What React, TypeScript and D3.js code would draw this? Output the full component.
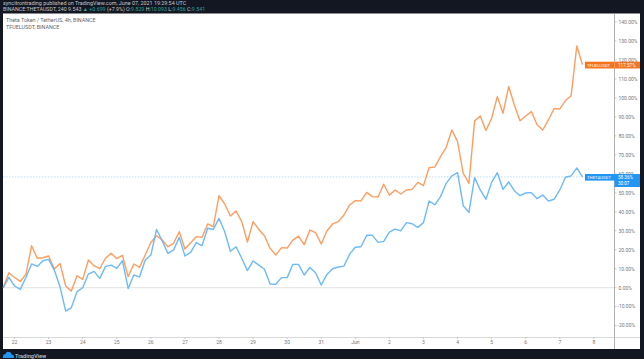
import React from "react";
import * as d3 from "d3";

const W = 644, H = 359;
const thetaValues = [0,5.4,0.9,-0.9,5.4,12.5,11.2,14.2,14.9,9.3,0.5,-12.3,-10.5,-2.1,0,7.2,8.6,4.9,11.1,11.9,10.2,14.2,-0.4,6.7,5.6,14.6,17.2,30.7,24.6,18.1,19.9,26.5,16.7,18.6,23.7,22.1,31.3,30.7,36.5,29.5,19.2,21.6,15.5,9.0,14.1,11.9,9.7,1.9,1.8,5.3,5.3,12.3,12.3,6.7,10.7,7.9,1.4,7.0,10.0,10.9,11.4,17.7,21.3,21.6,27.6,27.6,23.9,24.4,29.3,30.9,29.9,34.3,33.7,31.8,34.3,45.7,43.7,48.0,55.0,58.9,60.6,43.2,39.7,58.0,51.5,46.6,55.5,60.6,51.8,55.7,51.1,48.5,49.9,50.1,46.9,48.8,45.7,46.6,51.5,58.2,58.9,63.1,58.36];
const tfuelValues = [0,7.9,5.4,3.3,7.0,22.1,15.5,15.8,16.7,9.8,12.8,0.9,-1.8,6.3,4.4,14.6,11.6,10.0,15.5,18.1,15.3,17.0,5.8,12.5,10.7,17.2,23.8,27.4,25.1,21.6,23.4,29.5,20.4,23.7,26.9,26.5,33.6,32.2,48.5,44.1,37.8,40.4,34.8,24.1,34.8,30.7,27.4,20.7,17.2,21.1,20.9,25.1,27.2,22.7,30.4,29.0,23.0,29.9,33.6,34.8,38.3,43.6,45.9,45.7,50.2,48.0,47.8,54.5,48.7,51.5,49.4,51.5,51.8,55.5,53.8,63.3,63.6,69.1,74.0,83.1,77.0,60.3,55.0,87.9,90.5,82.8,89.3,100.7,91.9,106.0,96.3,88.0,90.5,92.8,85.9,83.1,88.4,94.4,94.2,98.6,101.2,127.4,117.57];
const yTicks = [-20,-10,0,10,20,30,40,50,60,70,80,90,100,110,120,130,140];
const dayLabels = ["22","23","24","25","26","27","28","29","30","31","Jun","2","3","4","5","6","7","8"];
const BARS_PER_DAY = 6;
const FIRST_DAY_INDEX = 2;

const ORANGE = "#ff8c42", BLUE = "#5cb2f7";
const FONT = "Roboto, 'Liberation Sans', sans-serif";

export default function App() {
  const x = d3.scaleLinear().domain([0, 102]).range([3.2, 582.5]);
  const y = d3.scaleLinear().domain([0, 130]).range([287.7, 41]);
  const line = d3.line<number>().x((_, i) => x(i)).y(d => y(d));
  const lastT = thetaValues[thetaValues.length - 1];
  const lastF = tfuelValues[tfuelValues.length - 1];
  const px = 3, pr = 640, pt = 13.5, pb = 349, ax = 614.5, bottom = 337.5;
  return (
    <svg width={W} height={H} style={{ position: "fixed", left: 0, top: 0, background: "#131722" }} fontFamily={FONT}>
      <rect x={px} y={pt} width={pr - px} height={pb - pt} fill="#fff" />
      <text x={3} y={4.5} fontSize={5.4} fill="#c3c6ce">syncitrontrading published on TradingView.com, June 07, 2021 19:29:54 UTC</text>
      <text x={3} y={11} fontSize={5.3} fill="#c3c6ce">
        BINANCE:THETAUSDT, 240 9.543 <tspan fill="#26a69a">▲ +0.699 </tspan>(+7.9%) O:<tspan fill="#26a69a">9.829</tspan> H:<tspan fill="#26a69a">10.093</tspan> L:<tspan fill="#26a69a">9.456</tspan> C:<tspan fill="#26a69a">9.541</tspan>
      </text>
      <text x={6} y={21.5} fontSize={5.4} fill="#666">Theta Token / TetherUS, 4h, BINANCE</text>
      <text x={6} y={28.5} fontSize={5.4} fill="#666">TFUELUSDT, BINANCE</text>

      <line x1={px} x2={ax} y1={y(0)} y2={y(0)} stroke="#e8e8e8" strokeWidth={1.3} />
      <line x1={px} x2={ax} y1={y(lastT)} y2={y(lastT)} stroke="#a9d6f9" strokeWidth={0.8} strokeDasharray="1.5 1.5" />

      <path d={line(tfuelValues) ?? ""} fill="none" stroke={ORANGE} strokeOpacity={0.85} strokeWidth={1.4} strokeLinejoin="round" />
      <path d={line(thetaValues) ?? ""} fill="none" stroke={BLUE} strokeOpacity={0.9} strokeWidth={1.4} strokeLinejoin="round" />

      <line x1={px} x2={pr} y1={bottom} y2={bottom} stroke="#d9d9d9" strokeWidth={1.2} />
      <line x1={ax} x2={ax} y1={pt} y2={pb} stroke="#a8a8a8" strokeWidth={0.9} />
      {yTicks.map(t => (
        <g key={t}>
          <line x1={ax} x2={ax + 2} y1={y(t)} y2={y(t)} stroke="#a8a8a8" strokeWidth={0.6} />
          <text x={t < 0 ? ax + 3 : ax + 4} y={y(t) + 1.8} fontSize={5} fill="#777">{t === 0 ? "0.00%" : `${t.toFixed(2)}%`}</text>
        </g>
      ))}
      {dayLabels.map((d, i) => {
        const xp = x(FIRST_DAY_INDEX + i * BARS_PER_DAY);
        return (
          <g key={d}>
            <line x1={xp} x2={xp} y1={bottom} y2={bottom + 1.5} stroke="#a8a8a8" strokeWidth={0.6} />
            <text x={xp} y={344} fontSize={5} fill="#777" textAnchor="middle">{d}</text>
          </g>
        );
      })}

      <g>
        <rect x={585} y={61.7} width={55} height={6.8} fill="#f57420" />
        <line x1={614.5} x2={614.5} y1={61.7} y2={68.5} stroke="#ffb07a" strokeWidth={0.6} />
        <text x={587} y={66.8} fontSize={4.3} fill="#fff">TFUELUSDT</text>
        <text x={618} y={66.8} fontSize={4.6} fill="#fff">{lastF.toFixed(2)}%</text>
      </g>
      <g>
        <rect x={585} y={174} width={30} height={6.6} fill="#2196f3" />
        <rect x={614.5} y={174} width={25.5} height={13} fill="#2196f3" />
        <text x={587} y={179} fontSize={4.3} fill="#fff">THETAUSDT</text>
        <text x={618} y={179} fontSize={4.6} fill="#fff">{lastT.toFixed(2)}%</text>
        <text x={618} y={185.2} fontSize={4.6} fill="#fff">30:07</text>
      </g>

      <g fill="#2196f3">
        <path d="M3 358 L3 356 Q3 354 5.5 354 Q6.5 351 9 352 Q11.5 352 11.5 354.5 Q14 354.5 14 357 L14 358 Z" />
      </g>
      <text x={15} y={357.5} fontSize={5.6} fill="#c3c6ce" fontWeight={500}>TradingView</text>
    </svg>
  );
}
